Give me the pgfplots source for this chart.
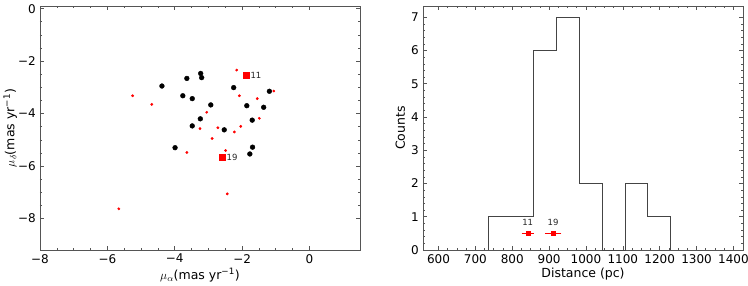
\documentclass[border=0pt]{standalone}
\usepackage{fontspec}
\setmainfont{DejaVu Sans}
\usepackage{pgfplots}
\pgfplotsset{compat=1.18}
\definecolor{axgray}{HTML}{555555}
\definecolor{histgray}{HTML}{444444}
\pgfplotsset{mystyle/.style={
  scale only axis, width=320pt, height=244pt,
  axis line style={axgray, line width=0.8pt},
  tick style={axgray, line width=0.6pt},
  major tick length=4pt, minor tick length=2pt, tick align=inside,
  ticklabel style={font=\fontsize{12}{14}\selectfont},
  label style={font=\fontsize{12.5}{14}\selectfont},
  /pgf/number format/assume math mode=true,
  /pgf/number format/1000 sep={},
}}
\begin{document}
\fontsize{12}{14}\selectfont
\begin{tikzpicture}
\path[use as bounding box] (-40pt,-35pt) rectangle (708pt,250pt);
\begin{axis}[mystyle, at={(0pt,0pt)}, anchor=south west,
  xmin=-8, xmax=1.5, ymin=-9.2, ymax=0.1,
  xtick={-8,-6,-4,-2,0}, xticklabels={−8,−6,−4,−2,0},
  ytick={-8,-6,-4,-2,0}, yticklabels={−8,−6,−4,−2,0},
  minor x tick num=3, minor y tick num=3,
  xlabel={$\mu_\alpha$(mas yr\textsuperscript{−1})},
  ylabel={$\mu_\delta$(mas yr\textsuperscript{−1})},
  xlabel style={yshift=3pt}, ylabel style={yshift=-7pt},
]
\addplot[only marks, mark=*, mark size=2.4pt, black] coordinates {
(-4.38,-2.95) (-3.64,-2.66) (-3.23,-2.47) (-3.20,-2.63) (-3.76,-3.32)
(-3.48,-3.43) (-2.93,-3.67) (-2.25,-3.01) (-1.86,-3.70) (-1.19,-3.15)
(-1.36,-3.76) (-1.70,-4.25) (-3.24,-4.20) (-3.48,-4.47) (-2.53,-4.62)
(-3.99,-5.30) (-1.69,-5.28) (-1.77,-5.54)
};
\addplot[only marks, mark=*, mark size=1.2pt, red, mark options={draw=red, fill=red}] coordinates {
(-5.25,-3.32) (-4.68,-3.65) (-2.16,-2.34) (-2.08,-3.32) (-1.55,-3.43)
(-1.06,-3.14) (-3.05,-3.95) (-1.49,-4.18) (-3.25,-4.57) (-2.72,-4.54)
(-2.04,-4.49) (-2.23,-4.70) (-2.89,-4.95) (-3.64,-5.48) (-2.49,-5.41)
(-2.44,-7.06) (-5.66,-7.63)
};
\addplot[only marks, mark=square*, mark size=3pt, red, mark options={draw=red, fill=red}] coordinates {
(-1.89,-2.54) (-2.60,-5.66)
};
\node[right, inner sep=1.5pt, font=\fontsize{8.5}{10}\selectfont, text=black!85] at (axis cs:-1.80,-2.54) {11};
\node[right, inner sep=1.5pt, font=\fontsize{8.5}{10}\selectfont, text=black!85] at (axis cs:-2.51,-5.66) {19};
\end{axis}
\begin{axis}[mystyle, at={(383pt,0pt)}, anchor=south west,
  xmin=558, xmax=1426, ymin=0, ymax=7.34,
  xtick={600,700,...,1400}, ytick={0,1,...,7},
  minor x tick num=3, minor y tick num=4,
  xlabel={Distance (pc)}, ylabel={Counts},
  xlabel style={yshift=3pt}, ylabel style={yshift=-2pt},
]
\addplot[const plot, histgray, line width=1pt] coordinates {
(735,0) (735,1) (797,1) (859,6) (921,7) (982,2) (1044,0) (1106,2) (1167,1) (1229,0)
};
\addplot[red, only marks, mark=square*, mark size=2pt, mark options={draw=red, fill=red},
  error bars/.cd, x dir=both, x explicit,
  error bar style={red, line width=1pt}, error mark options={red, mark size=2pt, line width=0.8pt}]
  coordinates {(842,0.5) +- (11,0) (911,0.5) +- (17,0)};
\node[font=\fontsize{8.5}{10}\selectfont, text=black!85] at (axis cs:842,0.82) {11};
\node[font=\fontsize{8.5}{10}\selectfont, text=black!85] at (axis cs:911,0.82) {19};
\end{axis}
\end{tikzpicture}
\end{document}
